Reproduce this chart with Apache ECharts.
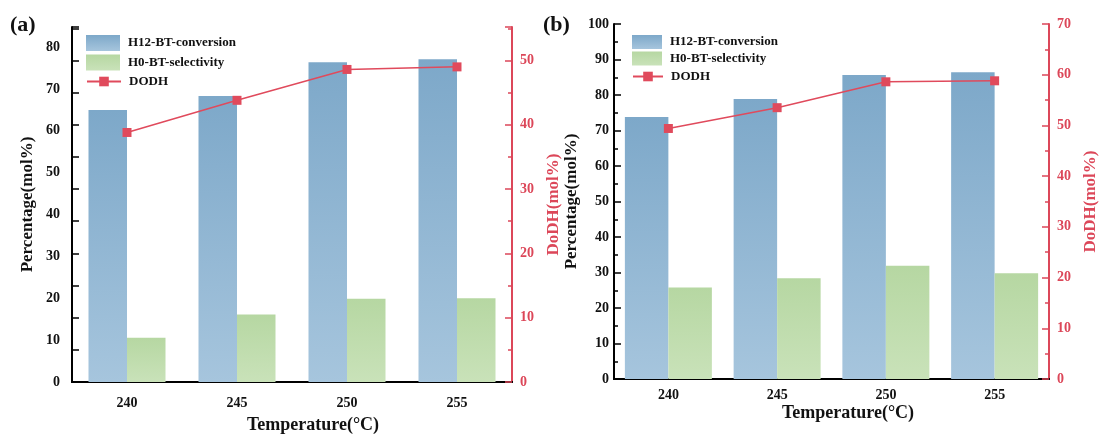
<!DOCTYPE html>
<html>
<head>
<meta charset="utf-8">
<script src="https://cdn.jsdelivr.net/npm/echarts@6/dist/echarts.min.js"></script>
<style>html,body{margin:0;padding:0;background:#fff;}#c{width:1100px;height:435px;}</style>
</head>
<body>
<div id="c"></div>
<script>
const categories = ['240', '245', '250', '255'];
// Panel (a)
const convA = [65.0, 68.3, 76.4, 77.1];
const selA = [10.6, 16.1, 19.9, 20.0];
const dodhA = [38.8, 43.8, 48.6, 49.0];
// Panel (b)
const convB = [73.8, 78.9, 85.6, 86.4];
const selB = [25.8, 28.4, 31.9, 29.8];
const dodhB = [49.4, 53.5, 58.6, 58.8];
// axis ranges
const leftMaxA = 84.8, rightMaxA = 55.2;
const leftMaxB = 100, rightMaxB = 70;

const FONT = '"Liberation Serif", "Times New Roman", serif';
const RED = '#dc4759';
const LINE_RED = '#e04a5c';
const blueGrad = {type:'linear',x:0,y:0,x2:0,y2:1,colorStops:[{offset:0,color:'#7da8c9'},{offset:1,color:'#a6c5dd'}]};
const greenGrad = {type:'linear',x:0,y:0,x2:0,y2:1,colorStops:[{offset:0,color:'#b6d7a2'},{offset:1,color:'#c9e2b9'}]};

const labelBlack = {fontFamily: FONT, fontWeight: 'bold', fontSize: 14, color: '#111'};
const labelRed = {fontFamily: FONT, fontWeight: 'bold', fontSize: 14, color: RED};
const legendText = {fontFamily:FONT, fontWeight:'bold', fontSize:13, color:'#111', padding:[0,0,0,3]};

function bottomX(grid, margin) {
  return {type:'category', gridIndex:grid, data:categories, position:'bottom',
    axisLine:{lineStyle:{color:'#000', width:2}}, axisTick:{show:false},
    axisLabel:Object.assign({margin:margin}, labelBlack)};
}
function topX(grid) {
  return {type:'category', gridIndex:grid, data:categories, position:'top',
    axisLine:{lineStyle:{color:'#000', width:2}}, axisTick:{show:false}, axisLabel:{show:false}};
}

const option = {
  animation: false,
  backgroundColor: '#fff',
  grid: [
    {left:72, top:27, width:440, height:355},
    {left:614, top:24, width:439, height:355}
  ],
  legend: [
    {left:86, top:35, padding:0, orient:'vertical', itemWidth:34, itemHeight:16, itemGap:3.5, icon:'rect',
     data:['H12-BT-conversion','H0-BT-selectivity'], textStyle:legendText},
    {left:86, top:75, padding:0, orient:'vertical', itemWidth:34, itemHeight:12,
     data:['DODH'], textStyle:legendText},
    {left:632, top:35, padding:0, orient:'vertical', itemWidth:30, itemHeight:14, itemGap:2.5, icon:'rect',
     data:['H12-BT-conversion','H0-BT-selectivity'], textStyle:legendText},
    {left:632, top:70, padding:0, orient:'vertical', itemWidth:30, itemHeight:12,
     data:['DODH'], textStyle:legendText}
  ],
  xAxis: [bottomX(0, 14), topX(0), bottomX(1, 9), topX(1)],
  yAxis: [
    // 0: panel a left (labels)
    {type:'value', gridIndex:0, position:'left', min:0, max:leftMaxA, interval:10,
     axisLine:{show:true, lineStyle:{color:'#000', width:2}}, axisTick:{show:false}, splitLine:{show:false},
     axisLabel:Object.assign({margin:12, showMaxLabel:false}, labelBlack),
     name:'Percentage(mol%)', nameLocation:'middle', nameGap:36, nameRotate:90,
     nameTextStyle:{fontFamily:FONT, fontWeight:'bold', fontSize:17, color:'#111'}},
    // 1: panel a right
    {type:'value', gridIndex:0, position:'right', min:0, max:rightMaxA, interval:10,
     axisLine:{show:true, lineStyle:{color:RED, width:2}},
     axisTick:{show:true, inside:true, length:7, lineStyle:{color:RED, width:1.5}},
     minorTick:{show:true, splitNumber:2, length:4, lineStyle:{color:RED, width:1.5}},
     splitLine:{show:false}, axisLabel:Object.assign({margin:8, showMaxLabel:false}, labelRed),
     name:'DoDH(mol%)', nameLocation:'middle', nameGap:33, nameRotate:90,
     nameTextStyle:{fontFamily:FONT, fontWeight:'bold', fontSize:17, color:RED}},
    // 2: panel a left tick marks
    {type:'value', gridIndex:0, position:'left', min:0, max:rightMaxA, interval:5,
     axisLine:{show:false}, axisLabel:{show:false}, splitLine:{show:false},
     axisTick:{show:true, inside:true, length:7, lineStyle:{color:'#000', width:1.5}}},
    // 3: panel b left
    {type:'value', gridIndex:1, position:'left', min:0, max:leftMaxB, interval:10,
     axisLine:{show:true, lineStyle:{color:'#000', width:2}},
     axisTick:{show:true, inside:true, length:7, lineStyle:{color:'#000', width:1.5}},
     minorTick:{show:true, splitNumber:2, length:4, lineStyle:{color:'#000', width:1.5}},
     splitLine:{show:false}, axisLabel:Object.assign({margin:5}, labelBlack),
     name:'Percentage(mol%)', nameLocation:'middle', nameGap:34, nameRotate:90,
     nameTextStyle:{fontFamily:FONT, fontWeight:'bold', fontSize:17, color:'#111'}},
    // 4: panel b right
    {type:'value', gridIndex:1, position:'right', min:0, max:rightMaxB, interval:10,
     axisLine:{show:true, lineStyle:{color:RED, width:2}},
     axisTick:{show:true, inside:true, length:7, lineStyle:{color:RED, width:1.5}},
     minorTick:{show:true, splitNumber:2, length:4, lineStyle:{color:RED, width:1.5}},
     splitLine:{show:false}, axisLabel:Object.assign({margin:8}, labelRed),
     name:'DoDH(mol%)', nameLocation:'middle', nameGap:33, nameRotate:90,
     nameTextStyle:{fontFamily:FONT, fontWeight:'bold', fontSize:17, color:RED}}
  ],
  series: [
    {name:'H12-BT-conversion', type:'bar', xAxisIndex:0, yAxisIndex:0, data:convA,
     itemStyle:{color:blueGrad}, barGap:'0%', barCategoryGap:'30%'},
    {name:'H0-BT-selectivity', type:'bar', xAxisIndex:0, yAxisIndex:0, data:selA,
     itemStyle:{color:greenGrad}, barGap:'0%', barCategoryGap:'30%'},
    {name:'DODH', type:'line', xAxisIndex:0, yAxisIndex:1, data:dodhA,
     symbol:'rect', symbolSize:9, itemStyle:{color:LINE_RED}, lineStyle:{color:LINE_RED, width:1.5}, z:5},
    {name:'H12-BT-conversion', type:'bar', xAxisIndex:2, yAxisIndex:3, data:convB,
     itemStyle:{color:blueGrad}, barGap:'0%', barCategoryGap:'20%'},
    {name:'H0-BT-selectivity', type:'bar', xAxisIndex:2, yAxisIndex:3, data:selB,
     itemStyle:{color:greenGrad}, barGap:'0%', barCategoryGap:'20%'},
    {name:'DODH', type:'line', xAxisIndex:2, yAxisIndex:4, data:dodhB,
     symbol:'rect', symbolSize:9, itemStyle:{color:LINE_RED}, lineStyle:{color:LINE_RED, width:1.5}, z:5}
  ],
  graphic: [
    {type:'text', left:10, top:14, style:{text:'(a)', font:'bold 22px ' + FONT, fill:'#111'}},
    {type:'text', left:543, top:14, style:{text:'(b)', font:'bold 22px ' + FONT, fill:'#111'}},
    {type:'text', x:313, y:425, style:{text:'Temperature(°C)', font:'bold 18px ' + FONT, fill:'#111', align:'center', verticalAlign:'middle'}},
    {type:'text', x:848, y:413, style:{text:'Temperature(°C)', font:'bold 18px ' + FONT, fill:'#111', align:'center', verticalAlign:'middle'}}
  ]
};
const chart = echarts.init(document.getElementById('c'), null, {renderer:'canvas'});
chart.setOption(option);
</script>
</body>
</html>
